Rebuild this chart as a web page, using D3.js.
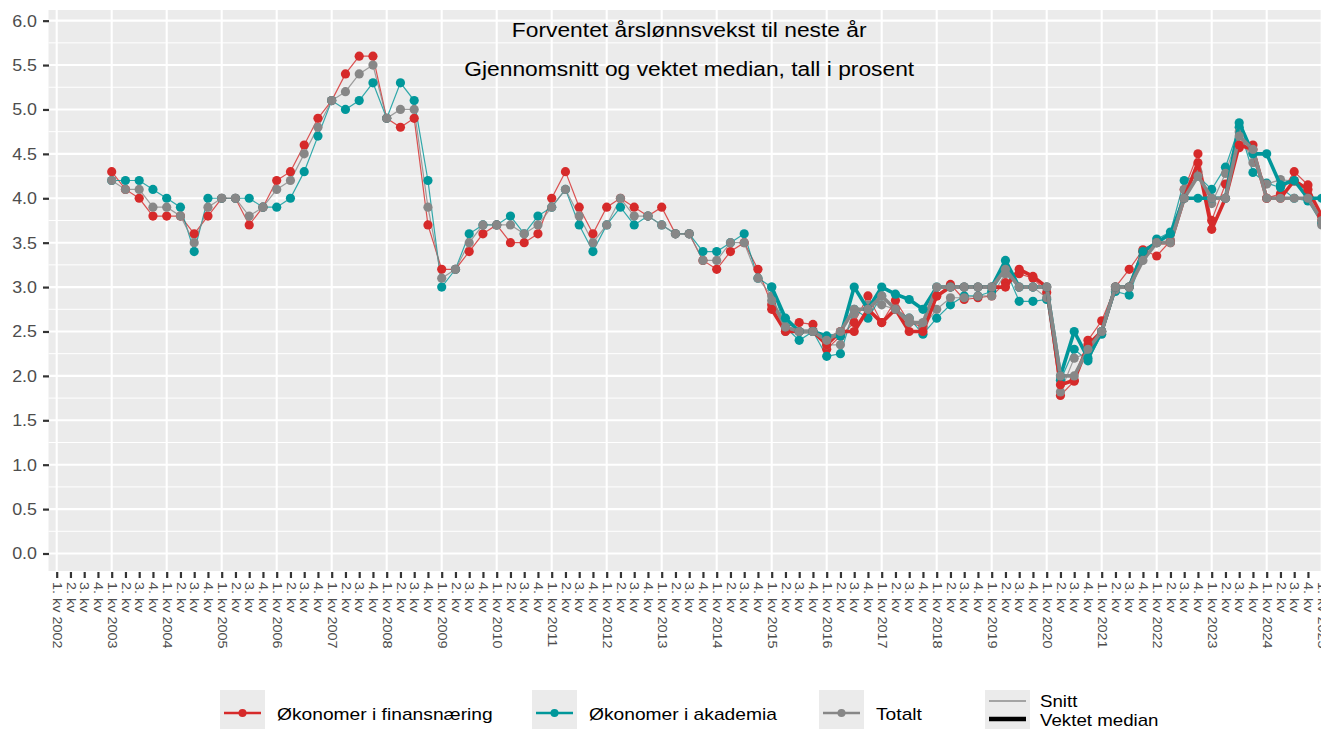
<!DOCTYPE html>
<html>
<head>
<meta charset="utf-8">
<script src="https://cdn.jsdelivr.net/npm/d3@7"></script>
<style>
  body { margin: 0; background: #ffffff; }
  text { font-family: "Liberation Sans", Arial, sans-serif; }
</style>
</head>
<body>
<div id="chart"></div>
<script>
// categories
var years = [2002, 2003, 2004, 2005, 2006, 2007, 2008, 2009, 2010, 2011, 2012, 2013,
             2014, 2015, 2016, 2017, 2018, 2019, 2020, 2021, 2022, 2023, 2024, 2025];
var quarterLabels = ["1. kv", "2. kv", "3. kv", "4. kv"];
var lastKey = "2025Q1";
var snittStart = "2003Q1";
var medianStart = "2015Q1";

var yTicks = [0, 0.5, 1, 1.5, 2, 2.5, 3, 3.5, 4, 4.5, 5, 5.5, 6];

// Gjennomsnitt (snitt), 1. kv 2003 - 1. kv 2025
var finansSnitt = [4.3, 4.1, 4.0, 3.8, 3.8, 3.8, 3.6, 3.8, 4.0, 4.0, 3.7, 3.9,
  4.2, 4.3, 4.6, 4.9, 5.1, 5.4, 5.6, 5.6, 4.9, 4.8, 4.9, 3.7,
  3.2, 3.2, 3.4, 3.6, 3.7, 3.5, 3.5, 3.6, 4.0, 4.3, 3.9, 3.6,
  3.9, 4.0, 3.9, 3.8, 3.9, 3.6, 3.6, 3.3, 3.2, 3.4, 3.5, 3.2,
  2.8, 2.55, 2.6, 2.58, 2.3, 2.45, 2.6, 2.9, 2.6, 2.85, 2.6, 2.55,
  2.9, 3.03, 2.86, 2.88, 2.9, 3.05, 3.15, 3.1, 2.94, 1.78, 1.94, 2.4,
  2.62, 3.0, 3.2, 3.42, 3.35, 3.52, 4.1, 4.5, 3.75, 4.16, 4.57, 4.6,
  4.0, 4.05, 4.3, 4.15, 3.75];
var akademiaSnitt = [4.2, 4.2, 4.2, 4.1, 4.0, 3.9, 3.4, 4.0, 4.0, 4.0, 4.0, 3.9,
  3.9, 4.0, 4.3, 4.7, 5.1, 5.0, 5.1, 5.3, 4.9, 5.3, 5.1, 4.2,
  3.0, 3.2, 3.6, 3.7, 3.7, 3.8, 3.6, 3.8, 3.9, 4.1, 3.7, 3.4,
  3.7, 3.9, 3.7, 3.8, 3.7, 3.6, 3.6, 3.4, 3.4, 3.5, 3.6, 3.1,
  3.0, 2.55, 2.4, 2.5, 2.22, 2.25, 2.75, 2.65, 2.9, 2.75, 2.65, 2.47,
  2.65, 2.8, 2.9, 2.9, 2.95, 3.2, 2.84, 2.84, 2.86, 1.95, 2.3, 2.17,
  2.47, 2.95, 2.91, 3.35, 3.54, 3.62, 4.2, 4.25, 4.1, 4.35, 4.8, 4.29,
  4.17, 4.12, 4.0, 3.97, 3.72];
var totaltSnitt = [4.2, 4.1, 4.1, 3.9, 3.9, 3.8, 3.5, 3.9, 4.0, 4.0, 3.8, 3.9,
  4.1, 4.2, 4.5, 4.8, 5.1, 5.2, 5.4, 5.5, 4.9, 5.0, 5.0, 3.9,
  3.1, 3.2, 3.5, 3.7, 3.7, 3.7, 3.6, 3.7, 3.9, 4.1, 3.8, 3.5,
  3.7, 4.0, 3.8, 3.8, 3.7, 3.6, 3.6, 3.3, 3.3, 3.5, 3.5, 3.1,
  2.9, 2.5, 2.5, 2.5, 2.35, 2.35, 2.7, 2.8, 2.8, 2.75, 2.65, 2.55,
  2.75, 2.88, 2.88, 2.9, 2.9, 3.15, 3.0, 3.0, 2.88, 1.82, 2.2, 2.26,
  2.5, 2.97, 3.0, 3.4, 3.5, 3.53, 4.1, 4.3, 3.94, 4.28, 4.75, 4.4,
  4.16, 4.21, 4.19, 4.04, 3.7];

// Vektet median, 1. kv 2015 - 1. kv 2025
var finansMedian = [2.75, 2.5, 2.5, 2.5, 2.35, 2.5, 2.5, 2.75, 2.6, 2.75, 2.5, 2.5,
  2.9, 3.0, 3.0, 3.0, 3.0, 3.0, 3.2, 3.12, 3.0, 1.9, 1.95, 2.35,
  2.5, 3.0, 3.0, 3.4, 3.5, 3.5, 4.0, 4.4, 3.65, 4.0, 4.6, 4.55,
  4.0, 4.0, 4.2, 4.1, 3.8];
var akademiaMedian = [3.0, 2.65, 2.5, 2.5, 2.45, 2.45, 3.0, 2.75, 3.0, 2.92, 2.86, 2.75,
  3.0, 3.0, 3.0, 3.0, 3.0, 3.3, 3.0, 3.0, 3.0, 2.0, 2.5, 2.2,
  2.5, 3.0, 3.0, 3.4, 3.5, 3.6, 4.0, 4.0, 4.0, 4.0, 4.85, 4.5,
  4.5, 4.15, 4.2, 4.0, 4.0];
var totaltMedian = [2.85, 2.55, 2.5, 2.5, 2.4, 2.5, 2.75, 2.75, 2.9, 2.75, 2.6, 2.6,
  3.0, 3.0, 3.0, 3.0, 3.0, 3.2, 3.0, 3.0, 3.0, 2.0, 2.0, 2.3,
  2.5, 3.0, 3.0, 3.3, 3.5, 3.5, 4.0, 4.25, 4.0, 4.0, 4.7, 4.55,
  4.0, 4.0, 4.0, 4.0, 3.75];

var seriesNames = ["Økonomer i finansnæring", "Økonomer i akademia", "Totalt"];
var seriesColors = ["#d62a2a", "#00979a", "#878787"];

var width = 1321, height = 729;
var panel = { left: 48.5, right: 1330, top: 10, bottom: 571 };

// build quarter categories
var categories = [];
years.forEach(function(yr)
{
  quarterLabels.forEach(function(q, i)
  {
    var key = yr + "Q" + (i + 1);
    if (categories.length && categories[categories.length - 1].key == lastKey) return;
    categories.push({ key: key, label: i == 0 ? q + " " + yr : q, first: i == 0 });
  });
});
var keys = categories.map(function(c) { return c.key; });

function toPoints(values, startKey)
{
  var s = keys.indexOf(startKey);
  return values.map(function(v, i) { return { key: keys[s + i], value: v }; });
}

var series = [
  { name: seriesNames[0], color: seriesColors[0], snitt: toPoints(finansSnitt, snittStart), median: toPoints(finansMedian, medianStart) },
  { name: seriesNames[1], color: seriesColors[1], snitt: toPoints(akademiaSnitt, snittStart), median: toPoints(akademiaMedian, medianStart) },
  { name: seriesNames[2], color: seriesColors[2], snitt: toPoints(totaltSnitt, snittStart), median: toPoints(totaltMedian, medianStart) }
];

var svg = d3.select("#chart").append("svg")
  .attr("width", width).attr("height", height)
  .style("background", "#ffffff");

var xScale = d3.scalePoint().domain(keys).range([56.7, 1321.7]);
var yScale = d3.scaleLinear().domain([-0.197, 6.12]).range([panel.bottom, panel.top]);

// stretch text horizontally to match the wider original type
function stretch(sel, k)
{
  sel.each(function()
  {
    var len = this.getComputedTextLength();
    d3.select(this).attr("textLength", len * k).attr("lengthAdjust", "spacingAndGlyphs");
  });
}

// panel
svg.append("rect")
  .attr("x", panel.left).attr("y", panel.top)
  .attr("width", panel.right - panel.left).attr("height", panel.bottom - panel.top)
  .attr("fill", "#ebebeb");

var grid = svg.append("g").attr("class", "grid");
var minorY = yTicks.slice(0, -1).map(function(t) { return t + 0.25; });
grid.selectAll(".minor").data(minorY).enter().append("line")
  .attr("x1", panel.left).attr("x2", panel.right)
  .attr("y1", function(d) { return yScale(d); }).attr("y2", function(d) { return yScale(d); })
  .attr("stroke", "#ffffff").attr("stroke-width", 1);
grid.selectAll(".major").data(yTicks).enter().append("line")
  .attr("x1", panel.left).attr("x2", panel.right)
  .attr("y1", function(d) { return yScale(d); }).attr("y2", function(d) { return yScale(d); })
  .attr("stroke", "#ffffff").attr("stroke-width", 2.1);
grid.selectAll(".vert").data(categories.filter(function(c) { return c.first; })).enter().append("line")
  .attr("x1", function(d) { return xScale(d.key); }).attr("x2", function(d) { return xScale(d.key); })
  .attr("y1", panel.top).attr("y2", panel.bottom)
  .attr("stroke", "#ffffff").attr("stroke-width", 2.1);

// title inside panel
var cx = (panel.left + panel.right) / 2;
svg.append("text").attr("x", cx).attr("y", 37).attr("text-anchor", "middle")
  .style("font-size", "20px").attr("fill", "#000")
  .text("Forventet årslønnsvekst til neste år").call(stretch, 1.14);
svg.append("text").attr("x", cx).attr("y", 76).attr("text-anchor", "middle")
  .style("font-size", "20px").attr("fill", "#000")
  .text("Gjennomsnitt og vektet median, tall i prosent").call(stretch, 1.14);

// axes
var yAxisCall = d3.axisLeft(yScale).tickValues(yTicks).tickFormat(d3.format(".1f")).tickSize(6).tickPadding(6);
var yAxis = svg.append("g").attr("class", "y axis").attr("transform", "translate(" + (panel.left + 0.5) + ",0)").call(yAxisCall);
yAxis.select(".domain").remove();
yAxis.selectAll(".tick line").attr("stroke", "#333333").attr("stroke-width", 2.2);
yAxis.selectAll(".tick text").attr("fill", "#4d4d4d").style("font-size", "17px").call(stretch, 1.05);

var xAxisCall = d3.axisBottom(xScale).tickSize(6).tickFormat(function(k)
{
  return categories[keys.indexOf(k)].label;
});
var xAxis = svg.append("g").attr("class", "x axis").attr("transform", "translate(0," + (panel.bottom + 1) + ")").call(xAxisCall);
xAxis.select(".domain").remove();
xAxis.selectAll(".tick line").attr("stroke", "#333333").attr("stroke-width", 2.2);
xAxis.selectAll(".tick text")
  .attr("fill", "#4d4d4d").style("font-size", "12px")
  .attr("x", 10).attr("y", 0).attr("dy", "0.35em")
  .attr("transform", "rotate(90)").style("text-anchor", "start")
  .call(stretch, 1.2);

// lines and points
var valueline = d3.line()
  .x(function(d) { return xScale(d.key); })
  .y(function(d) { return yScale(d.value); });

var marks = svg.append("g").attr("class", "marks");
series.forEach(function(s)
{
  marks.append("path").attr("d", valueline(s.snitt))
    .attr("fill", "none").attr("stroke", s.color).attr("stroke-width", 1.2).attr("opacity", 0.8);
});
series.forEach(function(s)
{
  marks.selectAll(null).data(s.snitt).enter().append("circle")
    .attr("cx", function(d) { return xScale(d.key); })
    .attr("cy", function(d) { return yScale(d.value); })
    .attr("r", 4.6).attr("fill", s.color);
});
series.forEach(function(s)
{
  marks.append("path").attr("d", valueline(s.median))
    .attr("fill", "none").attr("stroke", s.color).attr("stroke-width", 3.6).attr("stroke-linejoin", "round");
});
series.forEach(function(s)
{
  marks.selectAll(null).data(s.median).enter().append("circle")
    .attr("cx", function(d) { return xScale(d.key); })
    .attr("cy", function(d) { return yScale(d.value); })
    .attr("r", 4.6).attr("fill", s.color);
});

// legend
var legendKeyX = [220, 532, 819];
var legendTop = 690, keySize = 45;
var legend = svg.append("g").attr("class", "legend");
series.forEach(function(s, i)
{
  var kx = legendKeyX[i];
  legend.append("rect").attr("x", kx).attr("y", legendTop).attr("width", keySize).attr("height", keySize).attr("fill", "#ebebeb");
  legend.append("line").attr("x1", kx + 4).attr("x2", kx + keySize - 4)
    .attr("y1", legendTop + 23).attr("y2", legendTop + 23)
    .attr("stroke", s.color).attr("stroke-width", 2.6);
  legend.append("circle").attr("cx", kx + keySize / 2).attr("cy", legendTop + 23).attr("r", 4).attr("fill", s.color);
  legend.append("text").attr("x", kx + keySize + 12).attr("y", legendTop + 24).attr("dy", "0.35em")
    .style("font-size", "17px").attr("fill", "#000").text(s.name).call(stretch, 1.13);
});
var k4 = 985;
legend.append("rect").attr("x", k4).attr("y", legendTop).attr("width", keySize).attr("height", keySize).attr("fill", "#ebebeb");
legend.append("line").attr("x1", k4 + 4).attr("x2", k4 + keySize - 4).attr("y1", 701).attr("y2", 701)
  .attr("stroke", "#8c8c8c").attr("stroke-width", 1.4);
legend.append("line").attr("x1", k4 + 4).attr("x2", k4 + keySize - 4).attr("y1", 719).attr("y2", 719)
  .attr("stroke", "#000000").attr("stroke-width", 4.5);
legend.append("text").attr("x", k4 + keySize + 10).attr("y", 701).attr("dy", "0.35em")
  .style("font-size", "17px").attr("fill", "#000").text("Snitt").call(stretch, 1.1);
legend.append("text").attr("x", k4 + keySize + 10).attr("y", 720).attr("dy", "0.35em")
  .style("font-size", "17px").attr("fill", "#000").text("Vektet median").call(stretch, 1.1);
</script>
</body>
</html>
